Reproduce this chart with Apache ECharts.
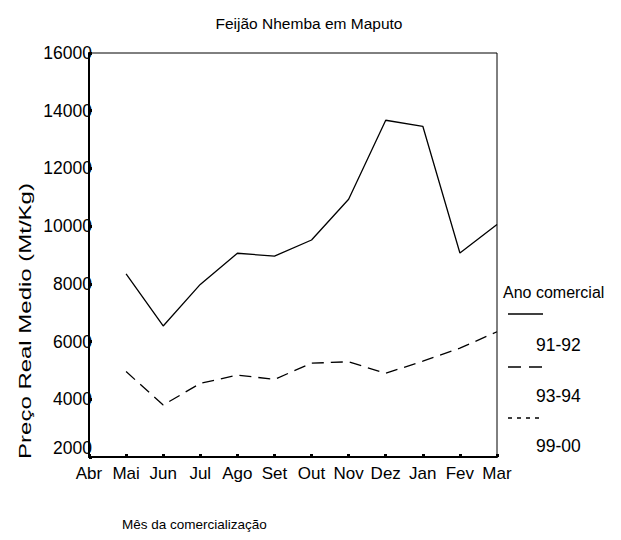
<!DOCTYPE html>
<html>
<head>
<meta charset="utf-8">
<script src="https://cdn.jsdelivr.net/npm/echarts@6/dist/echarts.min.js"></script>
<style>html,body{margin:0;padding:0;background:#fff;}#c{width:621px;height:540px;}</style>
</head>
<body>
<div id="c"></div>
<script>
var months = ['Abr','Mai','Jun','Jul','Ago','Set','Out','Nov','Dez','Jan','Fev','Mar'];
var s9192 = [null, 8350, 6540, 7980, 9060, 8960, 9520, 10930, 13670, 13460, 9070, 10060];
var s9394 = [null, 4960, 3800, 4550, 4840, 4690, 5250, 5300, 4900, 5320, 5770, 6340];
var s9900 = [null, null, null, null, null, null, null, null, null, null, null, null];
var seriesNames = ['91-92', '93-94', '99-00'];
var yTicks = [2000, 4000, 6000, 8000, 10000, 12000, 14000, 16000];

var FONT = 'Liberation Sans, Arial, sans-serif';
var chart = echarts.init(document.getElementById('c'), null, {renderer: 'svg'});
var dashes = [null, [12, 7], [3, 4]];
var datas = [s9192, s9394, s9900];

chart.setOption({
  animation: false,
  backgroundColor: '#fff',
  title: {
    text: 'Feijão Nhemba em Maputo',
    left: 304, top: 10, textAlign: 'center',
    textStyle: {fontFamily: FONT, fontSize: 15.5, fontWeight: 'normal', color: '#000'}
  },
  grid: {left: 89, right: 124, top: 53, bottom: 83, show: true, borderColor: '#000', borderWidth: 1, backgroundColor: 'transparent'},
  xAxis: {
    type: 'category', data: months, boundaryGap: false,
    axisLine: {lineStyle: {color: '#000', width: 2}},
    axisTick: {show: true, inside: true, length: 3, lineStyle: {color: '#000', width: 3}},
    axisLabel: {color: '#000', fontFamily: FONT, fontSize: 17, margin: 8, interval: 0},
    splitLine: {show: false}
  },
  yAxis: {
    type: 'value', min: yTicks[0], max: yTicks[yTicks.length - 1], interval: 2000,
    axisLine: {show: true, lineStyle: {color: '#000', width: 2}},
    axisTick: {show: true, inside: true, length: 3, lineStyle: {color: '#000', width: 3}},
    axisLabel: {
      color: '#000', fontFamily: FONT, fontSize: 17.5, margin: -3, verticalAlign: 'middle',
      formatter: function (v) { return v === yTicks[0] ? '{low|' + v + '}' : String(v); },
      rich: {low: {fontFamily: FONT, fontSize: 17.5, color: '#000', padding: [0, 0, 18, 0]}}
    },
    splitLine: {show: false}
  },
  series: seriesNames.map(function (n, i) {
    return {
      name: n, type: 'line', data: datas[i], showSymbol: false, symbol: 'none',
      connectNulls: false,
      lineStyle: {color: '#000', width: 1.3, type: dashes[i] || 'solid'}
    };
  }),
  graphic: [
    {type: 'text', rotation: Math.PI / 2, scaleX: 1.5, x: 26, y: 321, style: {text: 'Preço Real Medio (Mt/Kg)', font: '16px ' + FONT, fill: '#000', textAlign: 'center', textVerticalAlign: 'middle'}},
    {type: 'text', left: 122, top: 517, style: {text: 'Mês da comercialização', font: '13.5px ' + FONT, fill: '#000'}},
    {type: 'text', left: 503, top: 284, style: {text: 'Ano comercial', font: '16px ' + FONT, fill: '#000'}},
    {type: 'line', shape: {x1: 508, y1: 314, x2: 543, y2: 314}, style: {stroke: '#000', lineWidth: 1.3}},
    {type: 'text', left: 536, top: 336, style: {text: seriesNames[0], font: '17.5px ' + FONT, fill: '#000'}},
    {type: 'line', shape: {x1: 508, y1: 367, x2: 543, y2: 367}, style: {stroke: '#000', lineWidth: 1.3, lineDash: [13, 8]}},
    {type: 'text', left: 536, top: 387, style: {text: seriesNames[1], font: '17.5px ' + FONT, fill: '#000'}},
    {type: 'line', shape: {x1: 508, y1: 418, x2: 543, y2: 418}, style: {stroke: '#000', lineWidth: 1.3, lineDash: [4, 5]}},
    {type: 'text', left: 536, top: 437, style: {text: seriesNames[2], font: '17.5px ' + FONT, fill: '#000'}}
  ]
});
</script>
</body>
</html>
